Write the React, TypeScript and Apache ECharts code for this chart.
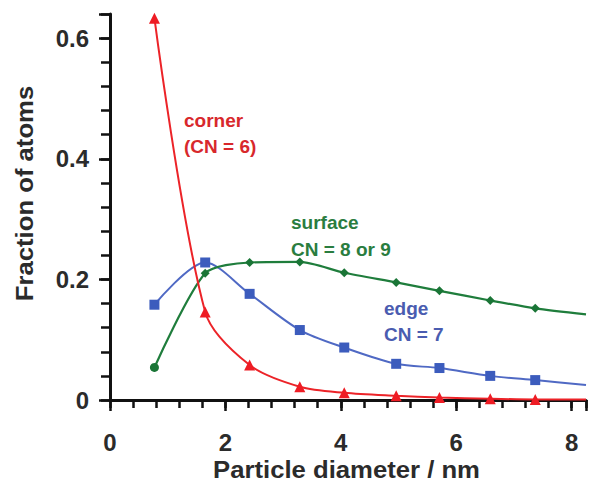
import React, { useEffect, useRef } from "react";
import * as echarts from "echarts";

// Particle diameter (nm) of each cluster; the last entry only carries the curves to the frame edge
const diameters = [0.77, 1.65, 2.42, 3.29, 4.06, 4.96, 5.71, 6.59, 7.37, 8.25];
const cornerFraction = [0.633, 0.146, 0.058, 0.022, 0.012, 0.007, 0.004, 0.002, 0.001, 0.001];
const edgeFraction = [0.158, 0.228, 0.176, 0.116, 0.087, 0.06, 0.053, 0.04, 0.033, 0.025];
const surfaceFraction = [0.054, 0.21, 0.228, 0.229, 0.211, 0.195, 0.181, 0.165, 0.152, 0.142];

const xTickValues = [0, 2, 4, 6, 8];
const xTickLabels = ["0", "2", "4", "6", "8"];
const yTickValues = [0, 0.2, 0.4, 0.6];
const yTickLabels = ["0", "0.2", "0.4", "0.6"];

const FONT = '"Liberation Sans", Arial, Helvetica, sans-serif';
const INK = "#2b2b2b";

const lookup = (values: number[], labels: string[]) => (v: number) => {
  const i = values.findIndex((t) => Math.abs(t - v) < 1e-6);
  return i >= 0 ? labels[i] : "";
};

const markerCount = 9;

function buildData(ys: number[], symbol: string, size: number, firstSymbol?: string, firstSize?: number) {
  return diameters.map((x, i) => {
    if (i >= markerCount) return { value: [x, ys[i]], symbol: "none" };
    if (i === 0 && firstSymbol) return { value: [x, ys[i]], symbol: firstSymbol, symbolSize: firstSize };
    return { value: [x, ys[i]], symbol, symbolSize: size };
  });
}

export default function App() {
  const ref = useRef<HTMLDivElement>(null);

  useEffect(() => {
    if (!ref.current) return;
    const chart = echarts.init(ref.current, undefined, { renderer: "svg" });

    const axisLine = { show: true, lineStyle: { color: "#111", width: 3 } };
    const tickStyle = { color: "#111", width: 2.5 };

    const label = (text: string, x: number, y: number, color: string) => ({
      type: "text",
      x,
      y,
      z: 100,
      style: {
        text,
        fill: color,
        font: `bold 19px ${FONT}`,
        align: "left",
        verticalAlign: "middle",
        textAlign: "left",
        textVerticalAlign: "middle",
      },
    });

    chart.setOption({
      animation: false,
      backgroundColor: "#ffffff",
      grid: { left: 110, top: 14, width: 484.7, height: 386, containLabel: false },
      xAxis: [
        {
          type: "value",
          position: "bottom",
          min: 0,
          max: 8.25,
          interval: 2,
          axisLine,
          axisTick: { show: true, inside: false, length: 11, lineStyle: tickStyle },
          axisLabel: {
            show: true,
            margin: 30,
            formatter: lookup(xTickValues, xTickLabels),
            color: INK,
            fontSize: 24,
            fontWeight: "bold",
            fontFamily: FONT,
          },
          splitLine: { show: false },
        },
        {
          type: "value",
          position: "bottom",
          min: 0,
          max: 8.25,
          interval: 0.4,
          axisLine: { show: false },
          axisTick: { show: true, inside: false, length: 8, lineStyle: tickStyle },
          axisLabel: { show: false },
          splitLine: { show: false },
        },
      ],
      yAxis: [
        {
          type: "value",
          position: "left",
          min: 0,
          max: 0.64,
          interval: 0.2,
          axisLine,
          axisTick: { show: true, inside: false, length: 11, lineStyle: tickStyle },
          axisLabel: {
            show: true,
            margin: 21,
            formatter: lookup(yTickValues, yTickLabels),
            color: INK,
            fontSize: 24,
            fontWeight: "bold",
            fontFamily: FONT,
          },
          splitLine: { show: false },
        },
        {
          type: "value",
          position: "left",
          min: 0,
          max: 0.64,
          interval: 0.04,
          axisLine: { show: false },
          axisTick: { show: true, inside: false, length: 9, lineStyle: tickStyle },
          axisLabel: { show: false },
          splitLine: { show: false },
        },
      ],
      series: [
        {
          name: "edge",
          type: "line",
          xAxisIndex: 0,
          yAxisIndex: 0,
          smooth: 0.3,
          data: buildData(edgeFraction, "rect", 10),
          lineStyle: { color: "#4f69c4", width: 2 },
          itemStyle: { color: "#3c5cbd" },
        },
        {
          name: "surface",
          type: "line",
          xAxisIndex: 0,
          yAxisIndex: 0,
          smooth: 0.25,
          data: buildData(surfaceFraction, "diamond", 9, "circle", 9),
          lineStyle: { color: "#1f7d3c", width: 2.2 },
          itemStyle: { color: "#1a7536" },
        },
        {
          name: "corner",
          type: "line",
          xAxisIndex: 0,
          yAxisIndex: 0,
          smooth: 0.3,
          data: buildData(cornerFraction, "triangle", 11),
          lineStyle: { color: "#ec2328", width: 2 },
          itemStyle: { color: "#ee1c24" },
        },
      ],
      graphic: [
        label("corner", 184, 120.5, "#d8282c"),
        label("(CN = 6)", 184, 146, "#d8282c"),
        label("surface", 291, 222.5, "#2a7d3f"),
        label("CN = 8 or 9", 291, 249, "#2a7d3f"),
        label("edge", 384, 308.5, "#4a5cb0"),
        label("CN = 7", 384, 334, "#4a5cb0"),
        {
          type: "text",
          x: 346.5,
          y: 470,
          scaleX: 1.07,
          style: {
            text: "Particle diameter / nm",
            fill: INK,
            font: `bold 24px ${FONT}`,
            align: "center",
            verticalAlign: "middle",
            textAlign: "center",
            textVerticalAlign: "middle",
          },
        },
        {
          type: "text",
          x: 25,
          y: 193.5,
          rotation: Math.PI / 2,
          scaleX: 1.07,
          style: {
            text: "Fraction of atoms",
            fill: INK,
            font: `bold 24px ${FONT}`,
            align: "center",
            verticalAlign: "middle",
            textAlign: "center",
            textVerticalAlign: "middle",
          },
        },
      ],
    });

    return () => chart.dispose();
  }, []);

  return (
    <div
      ref={ref}
      style={{ position: "absolute", left: 0, top: 0, width: 589, height: 486, background: "#fff" }}
    />
  );
}
